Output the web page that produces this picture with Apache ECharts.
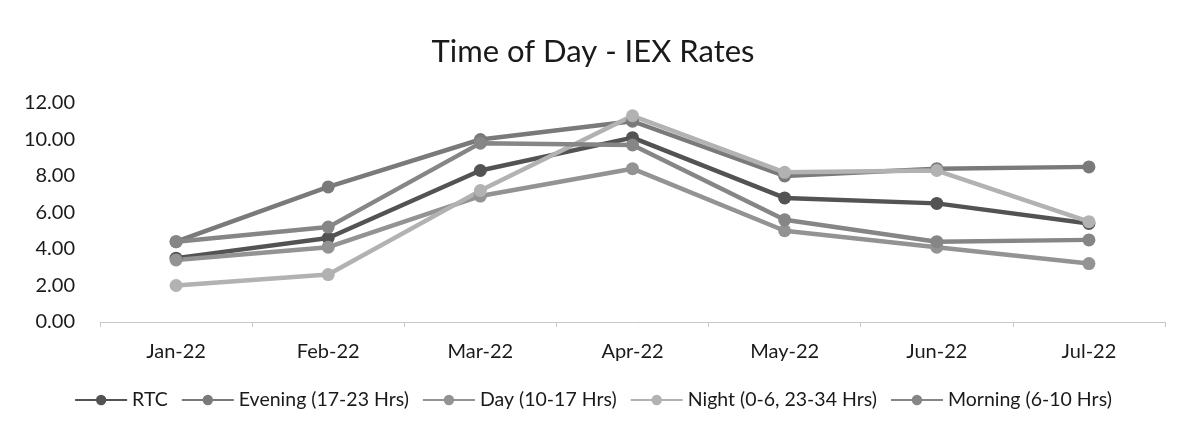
<!DOCTYPE html>
<html>
<head>
<meta charset="utf-8">
<script src="https://cdn.jsdelivr.net/npm/echarts@6/dist/echarts.min.js"></script>
<style>
  html, body { margin: 0; padding: 0; background: #fff; }
  #chart { width: 1186px; height: 430px; }
</style>
</head>
<body>
<div id="chart"></div>
<script>
var months = ['Jan-22', 'Feb-22', 'Mar-22', 'Apr-22', 'May-22', 'Jun-22', 'Jul-22'];

var rtc     = [3.5, 4.6, 8.3, 10.1, 6.8, 6.5, 5.4];
var evening = [4.4, 7.4, 10.0, 11.0, 8.0, 8.4, 8.5];
var day     = [3.4, 4.1, 6.9, 8.4, 5.0, 4.1, 3.2];
var night   = [2.0, 2.6, 7.2, 11.3, 8.2, 8.3, 5.5];
var morning = [4.4, 5.2, 9.8, 9.7, 5.6, 4.4, 4.5];

var seriesNames = ['RTC', 'Evening (17-23 Hrs)', 'Day (10-17 Hrs)', 'Night (0-6, 23-34 Hrs)', 'Morning (6-10 Hrs)'];
var seriesData = [rtc, evening, day, night, morning];
var seriesColors = ['#535353', '#7a7a7a', '#939393', '#b2b2b2', '#868686'];

var chart = echarts.init(document.getElementById('chart'));

var series = seriesNames.map(function (name, i) {
    return {
        name: name,
        type: 'line',
        data: seriesData[i],
        symbol: 'circle',
        symbolSize: 13,
        color: seriesColors[i],
        lineStyle: { width: 4.5, color: seriesColors[i] },
        itemStyle: { color: seriesColors[i] },
        animation: false
    };
});

chart.setOption({
    backgroundColor: '#fff',
    textStyle: { fontFamily: 'Lato' },
    title: {
        text: 'Time of Day - IEX Rates',
        left: 'center',
        top: 31,
        textStyle: { fontFamily: 'Lato', fontSize: 31, fontWeight: 'normal', color: '#1a1a1a' }
    },
    legend: {
        bottom: 15,
        left: 'center',
        itemWidth: 52,
        itemHeight: 13,
        itemGap: 13,
        textStyle: { fontFamily: 'Lato', fontSize: 19.5, color: '#1a1a1a' },
        data: seriesNames
    },
    grid: { left: 100, right: 21, top: 103, bottom: 108, containLabel: false },
    xAxis: {
        type: 'category',
        data: months,
        boundaryGap: true,
        axisLine: { lineStyle: { color: '#c8c8c8', width: 1 } },
        axisTick: { show: true, length: 5, lineStyle: { color: '#c8c8c8' } },
        axisLabel: { fontFamily: 'Lato', fontSize: 20, color: '#1a1a1a', margin: 20 }
    },
    yAxis: {
        type: 'value',
        min: 0,
        max: 12,
        interval: 2,
        axisLine: { show: false },
        axisTick: { show: false },
        splitLine: { show: false },
        axisLabel: {
            fontFamily: 'Lato', fontSize: 20, color: '#1a1a1a', margin: 25,
            formatter: function (v) { return v.toFixed(2); }
        }
    },
    series: series
});
</script>
</body>
</html>
